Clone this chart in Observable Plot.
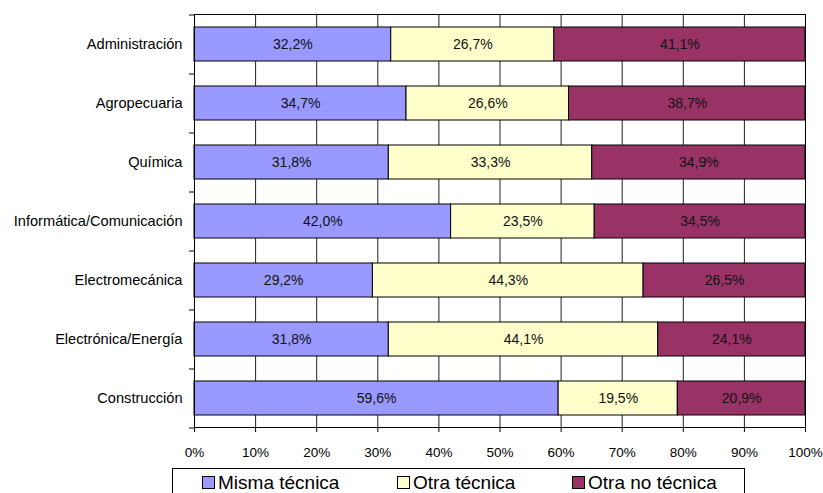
<!DOCTYPE html>
<html>
<head>
<meta charset="utf-8">
<script src="https://cdn.jsdelivr.net/npm/d3@7"></script>
<script src="https://cdn.jsdelivr.net/npm/@observablehq/plot@0.6"></script>
<style>
  html, body { margin: 0; padding: 0; background: #fff; }
  #wrap { position: relative; width: 823px; height: 493px; overflow: hidden; font-family: "Liberation Sans", Arial, sans-serif; }
  #legend { position: absolute; left: 172px; top: 468px; width: 573px; height: 25px; border: 1px solid #000; border-bottom: none; box-sizing: border-box; background: #fff; }
  .item { position: absolute; top: 4px; font-size: 19px; line-height: 19px; color: #000; white-space: nowrap; }
  .sw { display: inline-block; width: 11px; height: 11px; border: 1px solid #000; margin-right: 3px; vertical-align: 0px; }
</style>
</head>
<body>
<div id="wrap">
  <div id="chart"></div>
  <div id="legend"></div>
</div>
<script>
const categories = ["Administración", "Agropecuaria", "Química", "Informática/Comunicación", "Electromecánica", "Electrónica/Energía", "Construcción"];
const series = ["Misma técnica", "Otra técnica", "Otra no técnica"];
const misma = [32.2, 34.7, 31.8, 42.0, 29.2, 31.8, 59.6];
const otra = [26.7, 26.6, 33.3, 23.5, 44.3, 44.1, 19.5];
const otraNo = [41.1, 38.7, 34.9, 34.5, 26.5, 24.1, 20.9];
const xTicks = [0, 10, 20, 30, 40, 50, 60, 70, 80, 90, 100];
const colors = ["#9999FF", "#FFFFCC", "#993366"];

const seriesValues = [misma, otra, otraNo];
const data = series.flatMap((s, i) => categories.map((c, j) => ({cat: c, series: s, value: seriesValues[i][j]})));
const fmt = v => v.toFixed(1).replace(".", ",") + "%";

const chart = Plot.plot({
  width: 823,
  height: 468,
  marginTop: 14,
  marginRight: 18,
  marginBottom: 41,
  marginLeft: 194,
  style: {fontFamily: "'Liberation Sans', Arial, sans-serif", fontSize: "13px", color: "#000", background: "#fff"},
  x: {domain: [0, 100]},
  y: {domain: categories, paddingInner: 0.43, paddingOuter: 0.215},
  color: {domain: series, range: colors},
  marks: [
    Plot.ruleX(xTicks, {stroke: "#222", strokeWidth: 1}),
    Plot.barX(data, {x: "value", y: "cat", fill: "series", stroke: "#000", strokeWidth: 1}),
    Plot.text(data, Plot.stackX({x: "value", y: "cat", z: "series", text: d => fmt(d.value), fill: "#111", fontSize: 14})),
    Plot.frame({stroke: "#000"}),
    Plot.axisX({ticks: xTicks, tickSize: 5, tickPadding: 15, tickFormat: d => d + "%", label: null, fontSize: 13.5}),
    Plot.axisY({tickSize: 0, tickPadding: 12, label: null, fontSize: 14.6}),
    Plot.axisY({ticks: categories, tickSize: 5, tickFormat: () => "", label: null, dy: -29.5}),
    Plot.axisY({ticks: categories.slice(-1), tickSize: 5, tickFormat: () => "", label: null, dy: 29.5})
  ]
});
document.getElementById("chart").appendChild(chart);

const legend = document.getElementById("legend");
const lefts = [29, 224, 399];
series.forEach((s, i) => {
  const it = document.createElement("div");
  it.className = "item";
  it.style.left = lefts[i] + "px";
  const sw = document.createElement("span");
  sw.className = "sw";
  sw.style.background = colors[i];
  it.appendChild(sw);
  it.appendChild(document.createTextNode(s));
  legend.appendChild(it);
});
</script>
</body>
</html>
